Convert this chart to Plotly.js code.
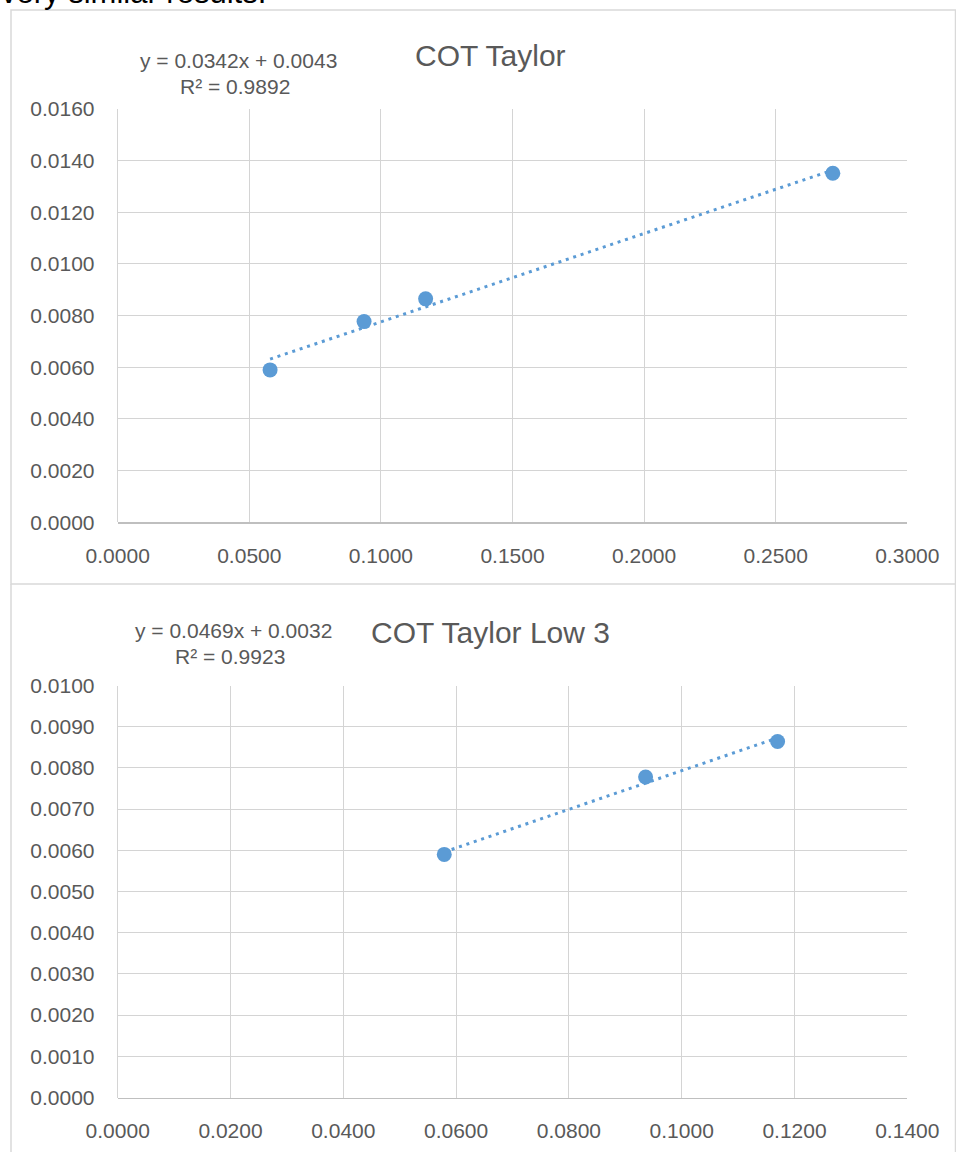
<!DOCTYPE html>
<html>
<head>
<meta charset="utf-8">
<script src="https://cdn.plot.ly/plotly-3.0.1.min.js"></script>
<style>
  html, body { margin: 0; padding: 0; background: #ffffff; overflow: hidden; }
  #wrap { position: relative; width: 956px; height: 1152px; }
  #chart { position: absolute; left: 0; top: 0; width: 956px; height: 1152px; }
  #lead { position: absolute; left: 1px; top: -23px; font-family: "Liberation Sans", Arial, sans-serif;
          font-size: 31px; line-height: 31px; color: #000000; white-space: nowrap; z-index: 5; }
</style>
</head>
<body>
<div id="wrap">
  <div id="chart"></div>
  <div id="lead">very similar results.</div>
</div>
<script>
// ---------- data ----------
const titleTop = "COT Taylor";
const xTop = [0.0579, 0.0936, 0.1170, 0.2717];
const yTop = [0.00590, 0.00777, 0.00865, 0.01351];
const eqTop = "y = 0.0342x + 0.0043";
const r2Top = "R² = 0.9892";

const titleLow = "COT Taylor Low 3";
const xLow = [0.0579, 0.0936, 0.1170];
const yLow = [0.00590, 0.00778, 0.00864];
const eqLow = "y = 0.0469x + 0.0032";
const r2Low = "R² = 0.9923";

// ---------- helpers ----------
function linfit(xs, ys) {
  const n = xs.length;
  let sx = 0, sy = 0, sxx = 0, sxy = 0;
  for (let i = 0; i < n; i++) { sx += xs[i]; sy += ys[i]; sxx += xs[i]*xs[i]; sxy += xs[i]*ys[i]; }
  const m = (n*sxy - sx*sy) / (n*sxx - sx*sx);
  const b = (sy - m*sx) / n;
  const x0 = Math.min(...xs), x1 = Math.max(...xs);
  return { x: [x0, x1], y: [m*x0 + b, m*x1 + b] };
}

const blue = "#5b9bd5";
const grid = "#d4d4d4";
const tickCol = "#595959";
const fnt = "Liberation Sans, Arial, sans-serif";
const W = 956, H = 1152;
const px = v => v / W;
const py = v => 1 - v / H;

const fitTop = linfit(xTop, yTop);
const fitLow = linfit(xLow, yLow);

const traces = [
  { x: fitTop.x, y: fitTop.y, xaxis: "x", yaxis: "y", mode: "lines",
    line: { color: blue, width: 3, dash: "3px,4.8px" }, hoverinfo: "skip" },
  { x: xTop, y: yTop, xaxis: "x", yaxis: "y", mode: "markers",
    marker: { color: blue, size: 15, line: { width: 0 } } },
  { x: fitLow.x, y: fitLow.y, xaxis: "x2", yaxis: "y2", mode: "lines",
    line: { color: blue, width: 3, dash: "3px,4.8px" }, hoverinfo: "skip" },
  { x: xLow, y: yLow, xaxis: "x2", yaxis: "y2", mode: "markers",
    marker: { color: blue, size: 15, line: { width: 0 } } }
];

function xax(range, dtick, anchor) {
  return {
    range: range, dtick: dtick, tick0: 0, tickformat: ".4f", anchor: anchor,
    domain: [px(117.7), px(907.3)],
    showgrid: true, gridcolor: grid, gridwidth: 1,
    zeroline: true, zerolinecolor: grid, zerolinewidth: 1,
    showline: true, linecolor: "#bfbfbf", linewidth: 1.5,
    ticks: "outside", ticklen: 14, tickcolor: "rgba(0,0,0,0)",
    tickfont: { family: fnt, size: 21, color: tickCol },
    fixedrange: true
  };
}
function yax(range, dtick, anchor, dom) {
  return {
    range: range, dtick: dtick, tick0: 0, tickformat: ".4f", anchor: anchor,
    domain: dom,
    showgrid: true, gridcolor: grid, gridwidth: 1,
    zeroline: true, zerolinecolor: "#bfbfbf", zerolinewidth: 1.5,
    showline: false,
    ticks: "outside", ticklen: 18, tickcolor: "rgba(0,0,0,0)",
    tickfont: { family: fnt, size: 21, color: tickCol },
    fixedrange: true
  };
}

const layout = {
  width: W, height: H,
  margin: { l: 0, r: 0, t: 0, b: 0, pad: 0 },
  paper_bgcolor: "#ffffff", plot_bgcolor: "#ffffff",
  showlegend: false,
  xaxis: xax([0, 0.3], 0.05, "y"),
  yaxis: yax([0, 0.016], 0.002, "x", [py(522.3), py(109)]),
  xaxis2: xax([0, 0.14], 0.02, "y2"),
  yaxis2: yax([0, 0.010], 0.001, "x2", [py(1097.5), py(685.5)]),
  shapes: [
    { type: "rect", xref: "paper", yref: "paper", x0: px(11), x1: px(955.5), y0: py(584), y1: py(10),
      line: { color: "#d9d9d9", width: 1.5 }, fillcolor: "rgba(0,0,0,0)", layer: "below" },
    { type: "line", xref: "paper", yref: "paper", x0: px(11), x1: px(11), y0: py(584), y1: 0,
      line: { color: "#d9d9d9", width: 1.5 } },
    { type: "line", xref: "paper", yref: "paper", x0: px(955.5), x1: px(955.5), y0: py(584), y1: 0,
      line: { color: "#d9d9d9", width: 1.5 } }
  ],
  annotations: [
    { text: titleTop, xref: "paper", yref: "paper", x: px(490), y: py(55), xanchor: "center", yanchor: "middle",
      showarrow: false, font: { family: fnt, size: 30, color: tickCol } },
    { text: eqTop, xref: "paper", yref: "paper", x: px(238), y: py(60), xanchor: "center", yanchor: "middle",
      showarrow: false, font: { family: fnt, size: 21, color: tickCol } },
    { text: r2Top, xref: "paper", yref: "paper", x: px(235), y: py(86), xanchor: "center", yanchor: "middle",
      showarrow: false, font: { family: fnt, size: 21, color: tickCol } },
    { text: titleLow, xref: "paper", yref: "paper", x: px(490), y: py(632), xanchor: "center", yanchor: "middle",
      showarrow: false, font: { family: fnt, size: 30, color: tickCol } },
    { text: eqLow, xref: "paper", yref: "paper", x: px(233), y: py(630), xanchor: "center", yanchor: "middle",
      showarrow: false, font: { family: fnt, size: 21, color: tickCol } },
    { text: r2Low, xref: "paper", yref: "paper", x: px(230), y: py(656), xanchor: "center", yanchor: "middle",
      showarrow: false, font: { family: fnt, size: 21, color: tickCol } }
  ]
};

Plotly.newPlot("chart", traces, layout, { staticPlot: true, displayModeBar: false });
</script>
</body>
</html>
